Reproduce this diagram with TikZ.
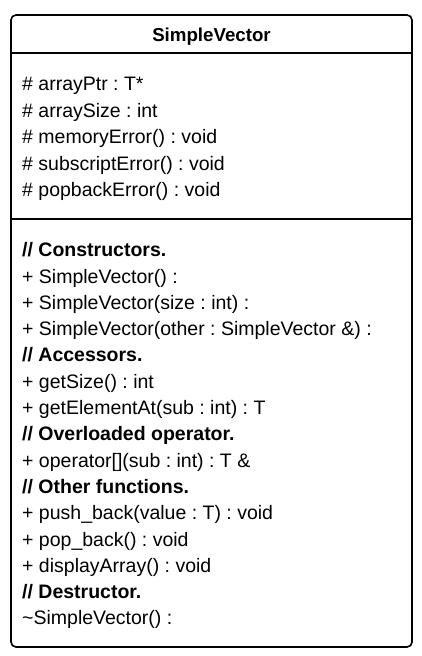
\documentclass[tikz,border=0pt]{standalone}
\usepackage{fontspec}
\setmainfont{Liberation Sans}
\frenchspacing
\usetikzlibrary{positioning}

\begin{document}
\begin{tikzpicture}[x=1pt, y=-1pt,
    line/.style={line width=1.6pt},
    member/.style={anchor=base west, inner sep=0pt, font=\fontsize{19.5}{26.4}\selectfont}]
    \useasboundingbox (0,0) rectangle (422,656);
    \node[line, draw, rounded corners=5pt, minimum width=401pt, minimum height=632pt] (box) at (211.5,331) {};
    \coordinate (sepA) at (0,53);
    \coordinate (sepB) at (0,219);
    \draw[line] (box.west |- sepA) -- (box.east |- sepA);
    \draw[line] (box.west |- sepB) -- (box.east |- sepB);
    \node[member, anchor=base, font=\fontsize{18.7}{26.4}\selectfont\bfseries] (title) at (211.5,41.7) {SimpleVector};
    \foreach \txt [count=\i] in {{\# arrayPtr : T*}, {\# arraySize : int}, {\# memoryError() : void},
        {\# subscriptError() : void}, {\# popbackError() : void}}
        \node[member] (attr\i) at (22, {90.7+26.5*(\i-1)}) {\txt};
    \foreach \txt [count=\i] in {{\textbf{// Constructors.}}, {+ SimpleVector() :}, {+ SimpleVector(size : int) :},
        {+ SimpleVector(other : SimpleVector \&) :}, {\textbf{// Accessors.}}, {+ getSize() : int},
        {+ getElementAt(sub : int) : T}, {\textbf{// Overloaded operator.}}, {+ operator[](sub : int) : T \&},
        {\textbf{// Other functions.}}, {+ push\_back(value : T) : void}, {+ pop\_back() : void},
        {+ displayArray() : void}, {\textbf{// Destructor.}}, {\textasciitilde SimpleVector() :}}
        \node[member] (meth\i) at (22, {256.7+26.3*(\i-1)}) {\txt};
\end{tikzpicture}
\end{document}
